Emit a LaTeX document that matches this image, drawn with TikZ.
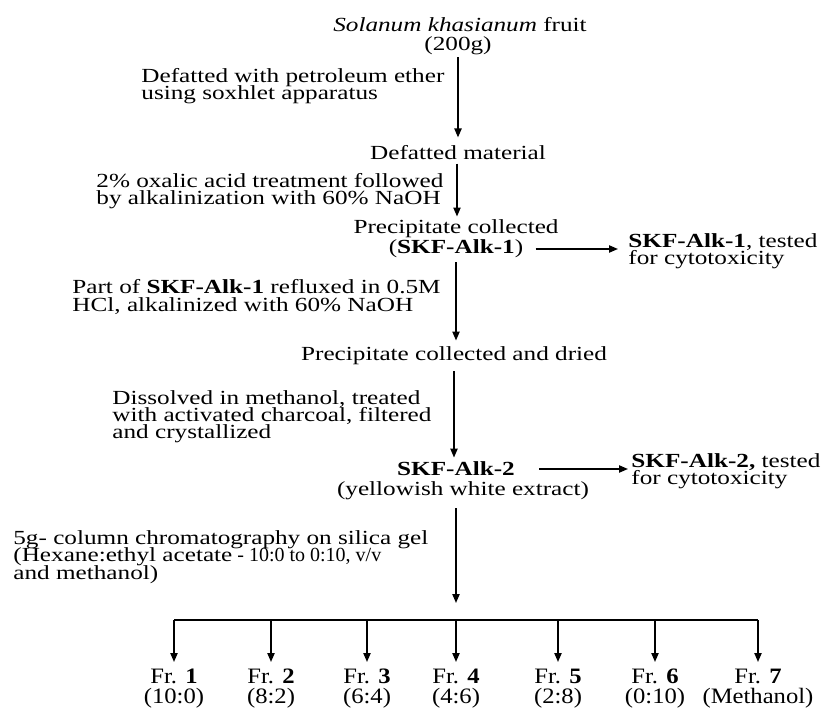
\documentclass[tikz,border=0pt]{standalone}
\usepackage{fontspec}
\setmainfont{Liberation Serif}[FakeStretch=1.26]
\newfontfamily\narrowfont{Liberation Serif}[FakeStretch=1.0]
\newfontfamily\frfam{Liberation Serif}[FakeStretch=1.12]
\usetikzlibrary{arrows.meta}
\setlength{\lineskiplimit}{-20pt}
\newcommand{\ctrfont}{\fontsize{10}{10.2}\selectfont}
\newcommand{\lblfont}{\fontsize{10}{8.6}\selectfont}
\newcommand{\frfont}{\frfam\fontsize{11}{9.8}\selectfont}
\begin{document}
\begin{tikzpicture}[x=0.5pt,y=-0.5pt,
  ctr/.style={inner sep=0pt, align=center, font=\ctrfont},
  lbl/.style={inner sep=0pt, align=left, anchor=west, font=\lblfont},
  frl/.style={inner sep=0pt, align=center, anchor=north, font=\frfont},
  conn/.style={line width=0.8pt},
  arr/.style={conn, -{Triangle[length=4.5pt,width=3.6pt]}}]
\useasboundingbox (0,0) rectangle (825,711);

% main column
\node[ctr] (n1a) at (460,25) {\textit{Solanum khasianum} fruit};
\node[ctr] (n1b) at (458,46) {(200g)};
\node[ctr] (n2) at (458,153) {Defatted material};
\node[ctr] (n3a) at (456,229) {Precipitate collected};
\node[ctr] (n3b) at (456,249) {(\textbf{SKF-Alk-1})};
\node[ctr] (n4) at (454,356) {Precipitate collected and dried};
\node[ctr] (n5a) at (456,469) {\textbf{SKF-Alk-2}};
\node[ctr] (n5b) at (463,491) {(yellowish white extract)};

% side results
\node[lbl] (r1) at (628,251) {\textbf{SKF-Alk-1}, tested\\for cytotoxicity};
\node[lbl] (r2) at (631,471) {\textbf{SKF-Alk-2,} tested\\for cytotoxicity};

% step labels
\node[lbl] (t1) at (141,86) {Defatted with petroleum ether\\using soxhlet apparatus};
\node[lbl] (t2) at (96,191) {2\% oxalic acid treatment followed\\by alkalinization with 60\% NaOH};
\node[lbl] (t3) at (72,297) {Part of \textbf{SKF-Alk-1} refluxed in 0.5M\\HCl, alkalinized with 60\% NaOH};
\node[lbl] (t4) at (112,417) {Dissolved in methanol, treated\\with activated charcoal, filtered\\and crystallized};
\node[lbl] (t5) at (13,557) {5g- column chromatography on silica gel\\(Hexane:ethyl acetate{\narrowfont\ - 10:0 to 0:10, v/v}\\and methanol)};

% fractions
\node[frl] (f1) at (174,669) {Fr. \textbf{1}\\(10:0)};
\node[frl] (f2) at (271,669) {Fr. \textbf{2}\\(8:2)};
\node[frl] (f3) at (367,669) {Fr. \textbf{3}\\(6:4)};
\node[frl] (f4) at (456,669) {Fr. \textbf{4}\\(4:6)};
\node[frl] (f5) at (558,669) {Fr. \textbf{5}\\(2:8)};
\node[frl] (f6) at (655,669) {Fr. \textbf{6}\\(0:10)};
\node[frl] (f7) at (758,669) {Fr. \textbf{7}\\(Methanol)};

% vertical connectors
\draw[arr, shorten <=1pt, shorten >=4pt] (n1b.south) -- (n1b.south |- n2.north);
\draw[arr, shorten <=1.5pt, shorten >=1.5pt] ([xshift=-0.5pt]n2.south) -- ([xshift=-0.5pt]n2.south |- n3a.north);
\draw[arr, shorten <=2pt, shorten >=3pt] (n3b.south) -- (n3b.south |- n4.north);
\draw[arr, shorten <=3pt, shorten >=2pt] (n4.south) -- (n4.south |- n5a.north);

% horizontal connectors
\draw[arr, shorten <=6pt, shorten >=5pt] (n3b.east) -- (n3b.east -| r1.west);
\draw[arr, shorten <=12pt, shorten >=1.5pt] (n5a.east) -- (n5a.east -| r2.west);

% branching to fractions
\coordinate (a5) at (456,603);
\coordinate (bl) at (174,620);
\coordinate (br) at (758,620);
\draw[arr, shorten <=4pt] (n5a |- n5b.south) -- (a5);
\draw[conn] (bl) -- (br);
\foreach \f in {f1,f2,f3,f4,f5,f6,f7}
  \draw[arr, shorten >=3.5pt] (\f |- bl) -- (\f.north);
\end{tikzpicture}
\end{document}
